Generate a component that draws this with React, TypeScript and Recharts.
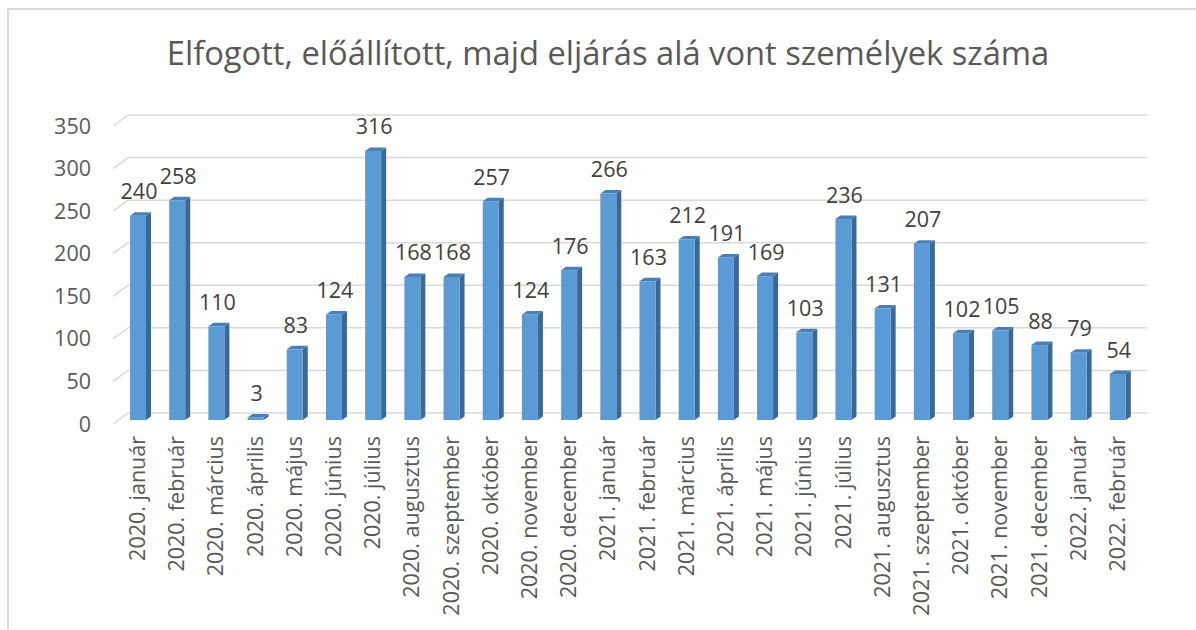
import { BarChart, Bar, XAxis, YAxis, CartesianGrid, LabelList } from 'recharts';

const months = [
  '2020. január', '2020. február', '2020. március', '2020. április', '2020. május', '2020. június',
  '2020. július', '2020. augusztus', '2020. szeptember', '2020. október', '2020. november', '2020. december',
  '2021. január', '2021. február', '2021. március', '2021. április', '2021. május', '2021. június',
  '2021. július', '2021. augusztus', '2021. szeptember', '2021. október', '2021. november', '2021. december',
  '2022. január', '2022. február',
];

const persons = [
  240, 258, 110, 3, 83, 124, 316, 168, 168, 257, 124, 176,
  266, 163, 212, 191, 169, 103, 236, 131, 207, 102, 105, 88,
  79, 54,
];

const yTicks = [0, 50, 100, 150, 200, 250, 300, 350];

const title = 'Elfogott, előállított, majd eljárás alá vont személyek száma';

const data = months.map((m, i) => ({ name: m, value: persons[i] }));

const FONT = '"Open Sans", Lato, sans-serif';
const LIFT = 4;
const DX = 5;
const DY = 3.5;

function Bar3D(props: any) {
  const { x, y, width, height } = props;
  const fy = y - LIFT;
  const w = width;
  const h = Math.max(height, 0);
  return (
    <g>
      <polygon
        points={`${x + w},${fy} ${x + w + DX},${fy - DY} ${x + w + DX},${fy + h - DY} ${x + w},${fy + h}`}
        fill="#3b6896"
      />
      <polygon
        points={`${x},${fy} ${x + DX},${fy - DY} ${x + w + DX},${fy - DY} ${x + w},${fy}`}
        fill="#4a7fb4"
      />
      <rect x={x} y={fy} width={w} height={h} fill="#5b9bd5" />
    </g>
  );
}

function GridLine(props: any) {
  const { x1, x2, y1 } = props;
  return (
    <g>
      <line x1={x1 - 5} y1={y1} x2={x1 + 10} y2={y1 - 11} stroke="#d9d9d9" strokeWidth={1.5} />
      <line x1={x1 + 10} y1={y1 - 11} x2={x2 + 10} y2={y1 - 11} stroke="#d9d9d9" strokeWidth={1.5} />
    </g>
  );
}

function MonthTick(props: any) {
  const { x, y, payload } = props;
  const ty = y + 12;
  return (
    <text
      x={x - 1}
      y={ty}
      transform={`rotate(-90, ${x - 1}, ${ty})`}
      textAnchor="end"
      dominantBaseline="central"
      fontFamily={FONT}
      fontSize={21.5}
      fill="#595959"
    >
      {payload.value}
    </text>
  );
}

function ValueLabel(props: any) {
  const { x, y, width, value } = props;
  return (
    <text
      x={x + width / 2 + 1}
      y={y - LIFT - 25}
      textAnchor="middle"
      dominantBaseline="central"
      fontFamily={FONT}
      fontSize={21.5}
      fill="#404040"
    >
      {value}
    </text>
  );
}

export default function App() {
  return (
    <div style={{ position: 'absolute', left: 0, top: 0, width: 1196, height: 630, background: '#fff' }}>
      <div
        style={{
          position: 'absolute',
          left: 7,
          top: 8,
          width: 1300,
          height: 700,
          borderLeft: '2px solid #d9d9d9',
          borderTop: '2px solid #d9d9d9',
        }}
      />
      <div
        style={{
          position: 'absolute',
          left: 0,
          top: 35,
          width: 1216,
          textAlign: 'center',
          fontFamily: FONT,
          fontSize: 32.7,
          lineHeight: '35px',
          color: '#595959',
          whiteSpace: 'nowrap',
        }}
      >
        {title}
      </div>
      <div style={{ position: 'absolute', left: 0, top: 0 }}>
        <BarChart
          width={1196}
          height={630}
          data={data}
          margin={{ top: 126, right: 59, left: 58, bottom: 6 }}
          barSize={16}
        >
          <CartesianGrid vertical={false} horizontal={(p: any) => <GridLine {...p} />} />
          <XAxis
            dataKey="name"
            interval={0}
            height={200}
            tickLine={false}
            axisLine={false}
            tickSize={0}
            tickMargin={0}
            tick={<MonthTick />}
          />
          <YAxis
            domain={[0, 350]}
            ticks={yTicks}
            interval={0}
            width={60}
            tickLine={false}
            axisLine={false}
            tickSize={0}
            tickMargin={27}
            tick={{ fontFamily: FONT, fontSize: 21.5, fill: '#595959' }}
          />
          <Bar dataKey="value" shape={<Bar3D />} isAnimationActive={false}>
            <LabelList dataKey="value" content={<ValueLabel />} />
          </Bar>
        </BarChart>
      </div>
    </div>
  );
}
